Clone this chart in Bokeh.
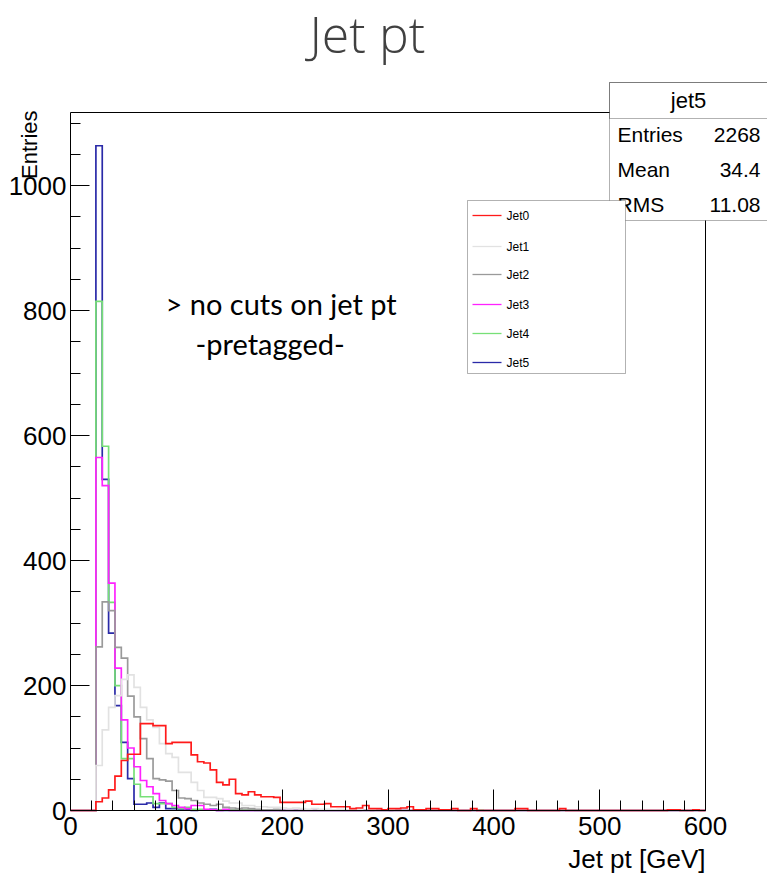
import numpy as np
from bokeh.plotting import figure
from bokeh.models import Range1d, FixedTicker, LinearAxis, Label, BoxAnnotation
from bokeh.embed import file_html
from bokeh.resources import INLINE

# ---------------- data ----------------
bin_width = 6          # GeV
first_edge = 24        # GeV, left edge of first filled bin
n_bins = 96            # 24 .. 600 GeV

jet0 = [14, 20, 33, 55, 80, 90, 90, 139, 139, 136, 136, 107, 109, 109, 109, 89, 78, 76, 65, 45, 41, 50,
        27, 25, 30, 25, 22, 22, 21,
        13, 13, 13, 13, 15, 10, 10, 11, 6, 6, 6, 3,
        4, 8, 3, 3, 1, 3, 3, 4, 6, 1, 1, 3, 3, 1, 1, 3,
        0, 0, 3, 0, 0, 0, 0, 0, 0, 3, 3, 0, 0, 0, 0, 0, 3,
        0, 0, 0, 0, 0, 0, 0, 0, 0, 0, 0, 0, 0, 0, 0, 0, 1, 1, 0, 0, 1, 0]
jet1 = [72, 129, 165, 184, 210, 217, 197, 165, 145, 133, 107, 91, 85, 61, 61, 45, 32, 21, 21, 19, 15,
        12, 12, 8, 8, 6, 6, 5, 5, 4, 3, 4, 3, 2, 3, 2, 2, 1, 2, 1, 1, 1, 0, 1, 0, 0, 1]
jet2 = [262, 334, 320, 261, 244, 183, 150, 115, 83, 51, 49, 47, 32, 20, 19, 16, 12, 10, 8, 10, 5,
        4, 3, 4, 3, 2, 1, 1, 2]
jet3 = [565, 520, 364, 228, 145, 100, 70, 48, 38, 27, 16, 11, 8, 5, 3, 8, 8, 2, 1, 0, 2]
jet4 = [815, 583, 333, 200, 83, 83, 42, 22, 22, 11, 11, 11, 5, 3, 5, 2, 2, 1, 1, 1, 1, 1, 1, 1, 1,
        0, 0, 0, 0, 0, 0, 0, 0, 0, 0, 0, 0, 0, 0, 0, 0, 0, 0, 0, 0, 0, 0, 0, 0, 0, 0, 0, 0, 0, 0,
        0, 0, 0, 0, 0, 1]
jet5 = [1064, 530, 284, 168, 109, 51, 10, 10, 12, 5, 12, 3, 3, 2, 1, 0, 1, 1, 2]

series_names = ["Jet0", "Jet1", "Jet2", "Jet3", "Jet4", "Jet5"]
series_values = [jet0, jet1, jet2, jet3, jet4, jet5]
series_colors = ["#ff1a1a", "#e2e2e2", "#9a9a9a", "#ff22ff", "#77e077", "#2a2aa8"]

x_major = [0, 100, 200, 300, 400, 500, 600]
x_minor = [v for v in range(0, 601, 20) if v % 100]
y_major = [0, 200, 400, 600, 800, 1000]
y_minor = [v for v in range(0, 1101, 50) if v % 200]

stats_title = "jet5"
stats_rows = [("Entries", "2268"), ("Mean", "34.4"), ("RMS", "11.08")]

title_text = "Jet pt"
x_title = "Jet pt [GeV]"
y_title = "Entries"
note_lines = ["> no cuts on jet pt", "-pretagged-"]

# ---------------- layout helpers (pixel -> data) ----------------
W, H = 767, 874
FL, FR, FT, FB = 70, 705, 112, 810
XMAX = 600
YMAX = 1117.2


def X(px):
    return (px - FL) * XMAX / (FR - FL)


def Y(py):
    return (FB - py) * YMAX / (FB - FT)


# the plotting frame covers the whole canvas; the axes sit at fixed data locations
p = figure(width=W, height=H, x_range=Range1d(X(0), X(W)), y_range=Range1d(Y(H), Y(0)),
           output_backend="svg", toolbar_location=None, min_border=0,
           x_axis_location=None, y_axis_location=None)
p.title.visible = False
p.grid.visible = False
p.outline_line_color = None
p.background_fill_color = "white"
p.border_fill_color = "white"

# histograms (drawn Jet5 first, Jet0 last)
edges = first_edge + bin_width * np.arange(n_bins + 1)
for name, vals, col in reversed(list(zip(series_names, series_values, series_colors))):
    v = np.zeros(n_bins)
    v[:len(vals)] = vals
    xs = np.concatenate([[0], np.repeat(edges, 2)])
    ys = np.concatenate([[0, 0], np.repeat(v, 2), [0]])
    p.line(xs, ys, line_color=col, line_width=1.7, line_join="miter")

# axes
xax = LinearAxis(fixed_location=0, bounds=(0, XMAX), ticker=FixedTicker(ticks=x_major, minor_ticks=x_minor))
yax = LinearAxis(fixed_location=0, bounds=(0, YMAX), ticker=FixedTicker(ticks=y_major, minor_ticks=y_minor))
for ax in (xax, yax):
    ax.axis_line_color = "black"
    ax.major_tick_line_color = "black"
    ax.minor_tick_line_color = "black"
    ax.major_tick_out = 0
    ax.minor_tick_out = 0
    ax.minor_tick_in = 10
    ax.major_label_text_font = "Liberation Sans"
    ax.major_label_text_font_size = "26px"
    ax.major_label_text_color = "black"
xax.major_tick_in = 21
yax.major_tick_in = 19
xax.major_label_standoff = 6
yax.major_label_standoff = 4
p.add_layout(xax, "below")
p.add_layout(yax, "left")

top = LinearAxis(fixed_location=YMAX, bounds=(0, XMAX), ticker=FixedTicker(ticks=[]),
                 major_tick_line_color=None, minor_tick_line_color=None,
                 major_label_text_font_size="0px", axis_line_color="black")
right = LinearAxis(fixed_location=XMAX, bounds=(0, YMAX), ticker=FixedTicker(ticks=[]),
                   major_tick_line_color=None, minor_tick_line_color=None,
                   major_label_text_font_size="0px", axis_line_color="black")
p.add_layout(top, "above")
p.add_layout(right, "right")

# titles
p.add_layout(Label(x=X(367), y=Y(33), text=title_text, text_align="center", text_baseline="middle",
                   text_font="Open Sans Light, Open Sans", text_font_size="50px", text_color="#404040"))
p.add_layout(Label(x=X(705), y=Y(858), text=x_title, text_align="right", text_baseline="middle",
                   text_font="Liberation Sans", text_font_size="26px", text_color="black"))
p.add_layout(Label(x=X(29), y=Y(110), text=y_title, angle=np.pi / 2, text_align="right",
                   text_baseline="middle", text_font="Liberation Sans", text_font_size="22px",
                   text_color="black"))

# annotation text
for t, (lx, ly) in zip(note_lines, [(165, 303), (195, 343)]):
    p.add_layout(Label(x=X(lx), y=Y(ly), text=t, text_align="left", text_baseline="middle",
                       text_font="Lato", text_font_size="29px", text_color="black"))

# stats box
p.add_layout(BoxAnnotation(left=X(609), right=X(775), top=Y(82), bottom=Y(220),
                           fill_color="white", fill_alpha=1, line_color="black", line_width=1))
p.add_layout(BoxAnnotation(left=X(609), right=X(775), top=Y(82), bottom=Y(118),
                           fill_alpha=0, line_color="black", line_width=1))
p.add_layout(Label(x=X(688), y=Y(100), text=stats_title, text_align="center", text_baseline="middle",
                   text_font="Liberation Sans", text_font_size="22px", text_color="black"))
for i, (k, v) in enumerate(stats_rows):
    yy = Y(134 + 35 * i)
    p.add_layout(Label(x=X(617), y=yy, text=k, text_align="left", text_baseline="middle",
                       text_font="Liberation Sans", text_font_size="21px", text_color="black"))
    p.add_layout(Label(x=X(760), y=yy, text=v, text_align="right", text_baseline="middle",
                       text_font="Liberation Sans", text_font_size="21px", text_color="black"))

# legend
p.add_layout(BoxAnnotation(left=X(467), right=X(625), top=Y(200), bottom=Y(373),
                           fill_color="white", fill_alpha=1, line_color="black", line_width=1))
leg_y = [215, 246, 274, 304, 333, 362]
for name, col, ly in zip(series_names, series_colors, leg_y):
    r = p.line([X(472), X(501)], [Y(ly), Y(ly)], line_color=col, line_width=1.3)
    r.level = "overlay"
    p.add_layout(Label(x=X(506), y=Y(ly), text=name, text_align="left", text_baseline="middle",
                       text_font="Liberation Sans", text_font_size="12px", text_color="black"))

open("out.html", "w").write(file_html(p, INLINE))
